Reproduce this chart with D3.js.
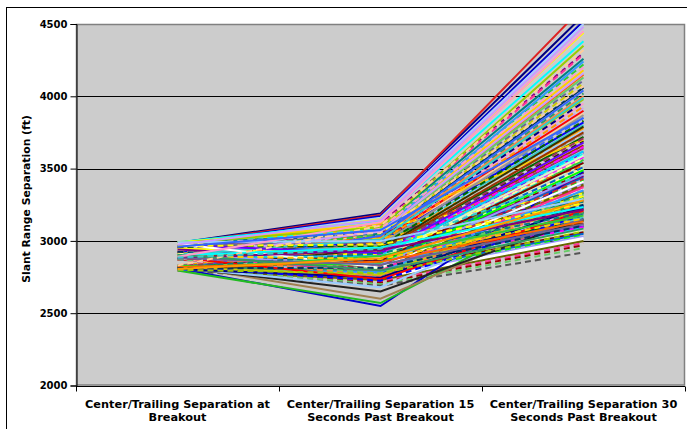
<!DOCTYPE html>
<html><head><meta charset="utf-8">
<script src="https://cdn.jsdelivr.net/npm/d3@7"></script>
<style>html,body{margin:0;padding:0;background:#fff;overflow:hidden}</style>
</head><body>
<svg id="c" width="687" height="429"></svg>
<script>
const categories = [
  ["Center/Trailing Separation at", "Breakout"],
  ["Center/Trailing Separation 15", "Seconds Past Breakout"],
  ["Center/Trailing Separation 30", "Seconds Past Breakout"]
];
const yTicks = [2000, 2500, 3000, 3500, 4000, 4500];
const yTitle = "Slant Range Separation (ft)";

// one entry per run, same order in every array
const atBreakout = [2985,2980,2975,2970,2960,2990,2950,2910,2900,2985,2880,2920,2820,2970,2890,2810,2900,2800,2960,2875,2830,2910,2800,2880,2975,2820,2900,2810,2885,2940,2800,2890,2830,2905,2815,2870,2980,2805,2930,2885,2965,2815,2905,2825,2795,2920,2880,2990,2975,2960,2985,2900,2910,2880,2970,2895,2820,2910,2830,2890,2805,2870,2810,2920,2800,2885,2825,2905,2815,2890,2800,2875,2810,2935,2820,2880,2805,2900,2815,2880,2800,2825,2810,2820,2800,2810,2795,2830,2820,2815,2950,2880,2940,2830,2895,2980,2870,2800,2925,2825,
  2985,2815,2890,2975,2805,2905,2820,2880,2960,2810,2895,2825,2970,2800,2885,2815,2910,2805,2880,2825,2900,2810,2980,2820,2890,2800,2875,2815,2905,2805,2885,2820,2990,2965,2900,2880,2815,2805,2895,2820,2880,2810,2905,2800,2890,2975,2830,2960,2885,2805];
const sec15 = [3190,3180,3170,3160,3150,3140,3120,3100,3090,3080,3060,3050,3040,3030,3020,3010,3000,2990,2980,2970,2960,2950,2940,2930,2920,2910,2900,2890,2880,2870,2860,2850,2840,2830,2820,2810,2800,2790,3110,3070,3060,3045,3025,3015,3005,2995,2985,3100,3080,3060,3050,3040,3020,3000,2990,2980,2970,2960,2950,2940,2930,2920,2910,2900,2890,2880,2870,2860,2850,2840,2830,2820,2810,2800,2790,2780,2770,2760,2750,2740,2730,2720,2710,2700,2690,2550,2570,2600,2650,2680,2900,2950,2870,2780,2820,3120,3030,2760,2850,2790,
  3095,3085,3065,3055,3035,3010,2990,2975,2965,2945,2935,2925,2915,2905,2895,2885,2875,2865,2855,2845,2835,2825,2815,2805,2795,2785,2775,2765,2755,2745,2735,2725,3000,2975,2955,2935,2915,2895,2875,2855,2835,2815,2795,2775,3130,3145,3105,3075,2945,2880];
const sec30 = [4560,4620,4520,4500,4440,4380,4300,4260,4220,4180,4150,4110,4060,4020,3980,3950,3920,3880,3850,3800,3780,3740,3720,3690,3660,3640,3610,3580,3550,3530,3500,3470,3440,3420,3400,3380,3360,3340,4290,4240,4130,4090,4000,3960,3900,3820,3760,3330,3300,3280,3270,3260,3250,3240,3230,3220,3210,3200,3190,3180,3170,3165,3160,3150,3145,3140,3130,3120,3110,3100,3095,3090,3080,3070,3060,3050,3040,3030,3020,3010,3000,2985,2970,2950,2920,3480,3300,3200,3150,3250,3310,3600,3450,3330,3560,3700,3520,3150,3250,3190,
  4350,4200,4160,4070,4040,3990,3930,3870,3830,3790,3750,3710,3680,3650,3620,3590,3570,3540,3510,3490,3460,3430,3410,3390,3370,3350,3320,3290,3270,3240,3210,3180,3290,3260,3235,3215,3195,3175,3155,3135,3115,3105,3085,3065,4450,4480,4320,3850,3460,3280];

// styling
const palette = ["#000080","#FF0000","#0000FF","#99CCFF","#FFFF00","#00FFFF","#800080","#008080","#33CC33","#FFCC00","#FF6600","#666699","#003366","#339966","#99CC00","#FF99CC","#CC99FF","#FFCC99","#3366FF","#33CCCC","#FF9900","#969696","#006600","#333300","#993300","#993366","#6600FF","#FF00FF","#00CCFF","#CCFFCC","#FFFF99","#800000","#0066CC","#00FF00","#9999FF","#CC3333","#FFFFFF","#666600","#FF3399","#3399FF","#66CC66","#CCCC00","#FF8040"];
const overrides = {0:"#000080",1:"#DD2222",2:"#0000CC",3:"#AACCFF",78:"#FFFFFF",82:"#990000",84:"#555555",85:"#0000CC",86:"#22BB22",87:"#A08050",88:"#222222"};
const dashedIdx = new Set([82,84]);

const svg = d3.select("#c");
const m = {left: 76, right: 685, top: 24, bottom: 385.5};
const font = "DejaVu Sans, Verdana, sans-serif";

// outer border
svg.append("rect").attr("x", 6.5).attr("y", 7.5).attr("width", 700).attr("height", 440)
  .attr("fill", "#fff").attr("stroke", "#000").attr("stroke-width", 1);

const x = d3.scaleBand().domain(d3.range(categories.length)).range([m.left, m.right]).paddingInner(0).paddingOuter(0);
const y = d3.scaleLinear().domain([2000, 4500]).range([m.bottom, m.top]);

svg.append("rect").attr("x", m.left).attr("y", m.top).attr("width", m.right - m.left).attr("height", m.bottom - m.top)
  .attr("fill", "#CCCCCC");

svg.append("clipPath").attr("id", "clip").append("rect")
  .attr("x", m.left).attr("y", m.top).attr("width", m.right - m.left).attr("height", m.bottom - m.top);

// gridlines
svg.append("g").selectAll("line").data(yTicks.filter(t => t > 2000 && t < 4500)).join("line")
  .attr("x1", m.left).attr("x2", m.right)
  .attr("y1", d => Math.round(y(d)) + 0.5).attr("y2", d => Math.round(y(d)) + 0.5)
  .attr("stroke", "#000").attr("stroke-width", 1);

// plot border
svg.append("rect").attr("x", m.left + 0.5).attr("y", m.top + 0.5).attr("width", m.right - m.left - 1).attr("height", m.bottom - m.top - 1)
  .attr("fill", "none").attr("stroke", "#808080").attr("stroke-width", 1.5);

// lines
const cx = i => x(i) + x.bandwidth() / 2;
const line = d3.line().x((d, i) => cx(i)).y(d => y(d));
const runs = atBreakout.map((v, i) => [v, sec15[i], sec30[i]]);
const lg = svg.append("g").attr("clip-path", "url(#clip)");
runs.forEach((r, i) => {
  const col = overrides[i] || palette[i % palette.length];
  const dashed = dashedIdx.has(i) || ((i % 5 === 1 || i % 5 === 3) && i > 3 && !(i in overrides));
  lg.append("path").attr("d", line(r)).attr("fill", "none")
    .attr("stroke", col).attr("stroke-width", 2)
    .attr("stroke-dasharray", dashed ? "6,4" : null);
});

// y axis
const yAxis = d3.axisLeft(y).tickValues(yTicks).tickSize(6).tickPadding(3).tickFormat(d3.format("d"));
const ya = svg.append("g").attr("transform", `translate(${m.left + 0.5},0)`).call(yAxis);
ya.select(".domain").attr("stroke", "#000");
ya.selectAll(".tick line").attr("stroke", "#000");
ya.selectAll("text").attr("font-family", font).attr("font-weight", "bold")
  .attr("font-size", 10).attr("fill", "#000");

// x axis
const xa = svg.append("g").attr("transform", `translate(0,${Math.round(m.bottom) + 0.5})`);
xa.append("line").attr("x1", m.left).attr("x2", m.right).attr("stroke", "#000");
xa.selectAll("line.t").data(d3.range(categories.length + 1)).join("line").attr("class", "t")
  .attr("x1", d => Math.round(d < categories.length ? x(d) : m.right) + 0.5)
  .attr("x2", d => Math.round(d < categories.length ? x(d) : m.right) + 0.5)
  .attr("y1", 0).attr("y2", 5).attr("stroke", "#000");
categories.forEach((c, i) => {
  const t = svg.append("text").attr("text-anchor", "middle")
    .attr("font-family", font).attr("font-weight", "bold").attr("font-size", 11.3)
    .attr("fill", "#000");
  c.forEach((s, k) => t.append("tspan").attr("x", cx(i)).attr("y", 408 + k * 13).text(s));
});

// y title
svg.append("text").attr("transform", `translate(30,199) rotate(-90)`)
  .attr("text-anchor", "middle").attr("font-family", font)
  .attr("font-weight", "bold").attr("font-size", 10.8).attr("fill", "#000").text(yTitle);
</script>
</body></html>
